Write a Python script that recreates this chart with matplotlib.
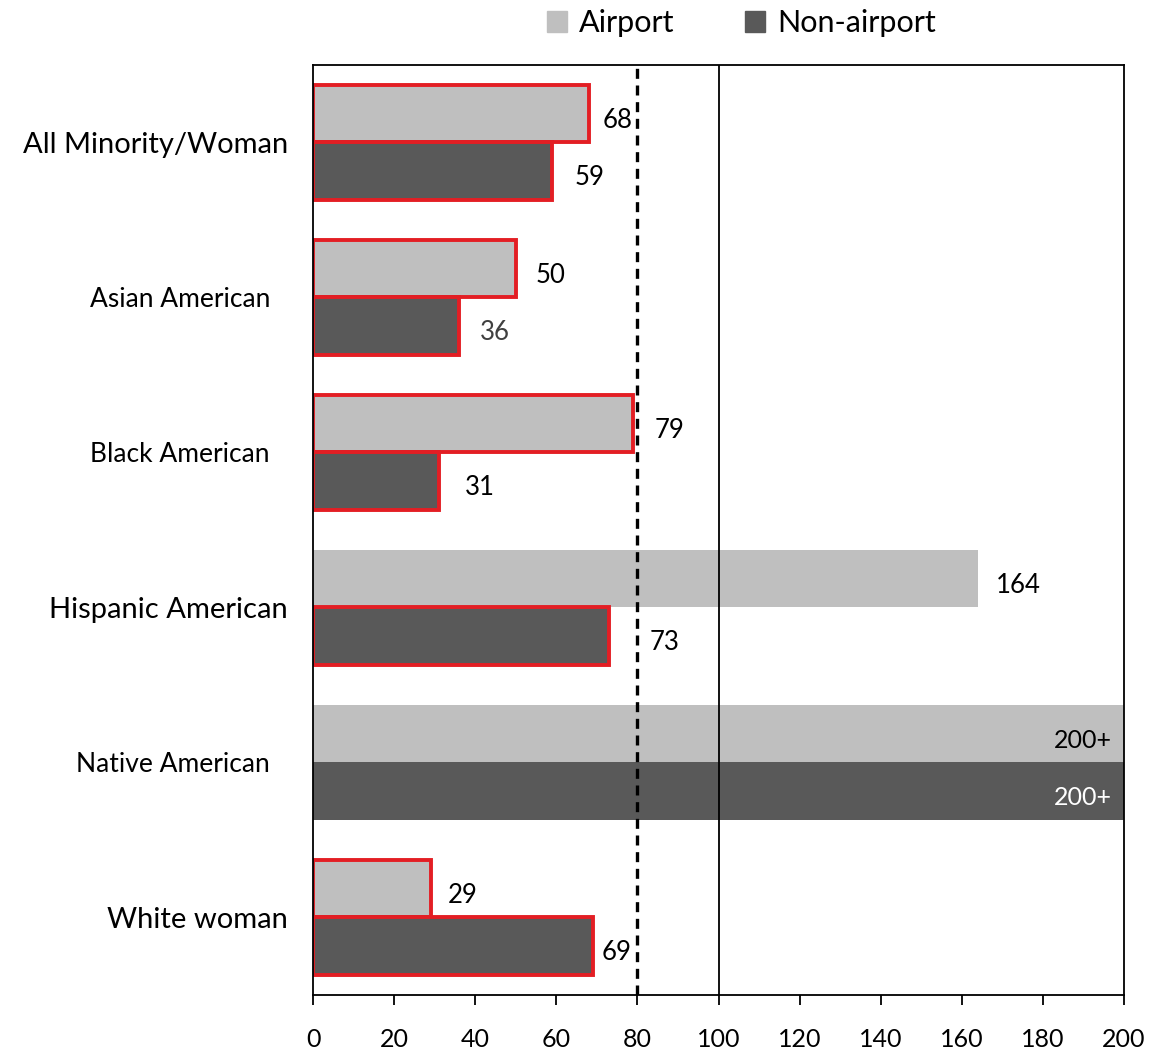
import numpy as np
import matplotlib.pyplot as plt

plt.rcParams['font.family'] = ['Lato', 'DejaVu Sans']

# data
categories = ['All Minority/Woman', 'Asian American', 'Black American',
              'Hispanic American', 'Native American', 'White woman']
airport = [68, 50, 79, 164, 200, 29]
non_airport = [59, 36, 31, 73, 200, 69]
airport_labels = ['68', '50', '79', '164', '200+', '29']
non_airport_labels = ['59', '36', '31', '73', '200+', '69']
threshold = 80
xticks = [0, 20, 40, 60, 80, 100, 120, 140, 160, 180, 200]

light = '#BFBFBF'
dark = '#595959'
red = '#E31E24'

fig = plt.figure(figsize=(11.53, 10.53), dpi=100)
ax = fig.add_axes([0.2715, 0.0551, 0.7034, 0.8832])

y = np.arange(len(categories))
h = 0.37
dy = -4.5  # nudge value labels down a bit

for i in range(len(categories)):
    for val, lab, off, col in [(airport[i], airport_labels[i], -h / 2, light),
                               (non_airport[i], non_airport_labels[i], h / 2, dark)]:
        flag = val < threshold
        ax.barh(y[i] + off, val, height=h, color=col,
                edgecolor=red if flag else 'none', linewidth=2.8 if flag else 0,
                zorder=2)
        if lab.endswith('+'):
            ax.annotate(lab, (200, y[i] + off), xytext=(-9, dy), textcoords='offset points',
                        ha='right', va='center', fontsize=18,
                        color='white' if col == dark else 'black', zorder=4)

# value labels right of bars (offsets in points, tuned by eye)
a_off = [10, 14, 15, 13, 0, 12]
n_off = [16, 15, 19, 29, 0, 6]
for i in range(len(categories)):
    if not airport_labels[i].endswith('+'):
        ax.annotate(airport_labels[i], (airport[i], y[i] - h / 2), xytext=(a_off[i], dy),
                    textcoords='offset points', ha='left', va='center', fontsize=18.5)
    if not non_airport_labels[i].endswith('+'):
        ax.annotate(non_airport_labels[i], (non_airport[i], y[i] + h / 2), xytext=(n_off[i], dy),
                    textcoords='offset points', ha='left', va='center', fontsize=18.5,
                    color='#404040' if non_airport_labels[i] == '36' else 'black')

ax.axvline(threshold, color='black', linewidth=2.4, linestyle=(0, (3, 2)), zorder=3)
ax.axvline(100, color='black', linewidth=1.3, zorder=3)

ax.set_xlim(0, 200)
ax.set_ylim(5.5, -0.5)
ax.set_xticks(xticks)
ax.tick_params(axis='x', labelsize=18, length=7, width=1.3, direction='out', pad=17)
ax.set_yticks(y)
ax.set_yticklabels(categories)
ax.tick_params(axis='y', length=0)
big = [0, 3, 5]
for i, t in enumerate(ax.yaxis.get_major_ticks()):
    t.label1.set_va('center_baseline')
    if i in big:
        t.label1.set_fontsize(21)
        t.set_pad(18)
    else:
        t.label1.set_fontsize(19)
        t.set_pad(31)
for s in ax.spines.values():
    s.set_linewidth(1.3)

handles = [plt.Rectangle((0, 0), 1, 1, color=light), plt.Rectangle((0, 0), 1, 1, color=dark)]
fig.legend(handles, ['Airport', 'Non-airport'], loc='center', ncol=2,
           bbox_to_anchor=(0.643, 0.978), frameon=False, fontsize=22,
           handlelength=0.65, handleheight=0.65, handletextpad=0.4, columnspacing=2.3)

fig.savefig('out.png', dpi=100)
